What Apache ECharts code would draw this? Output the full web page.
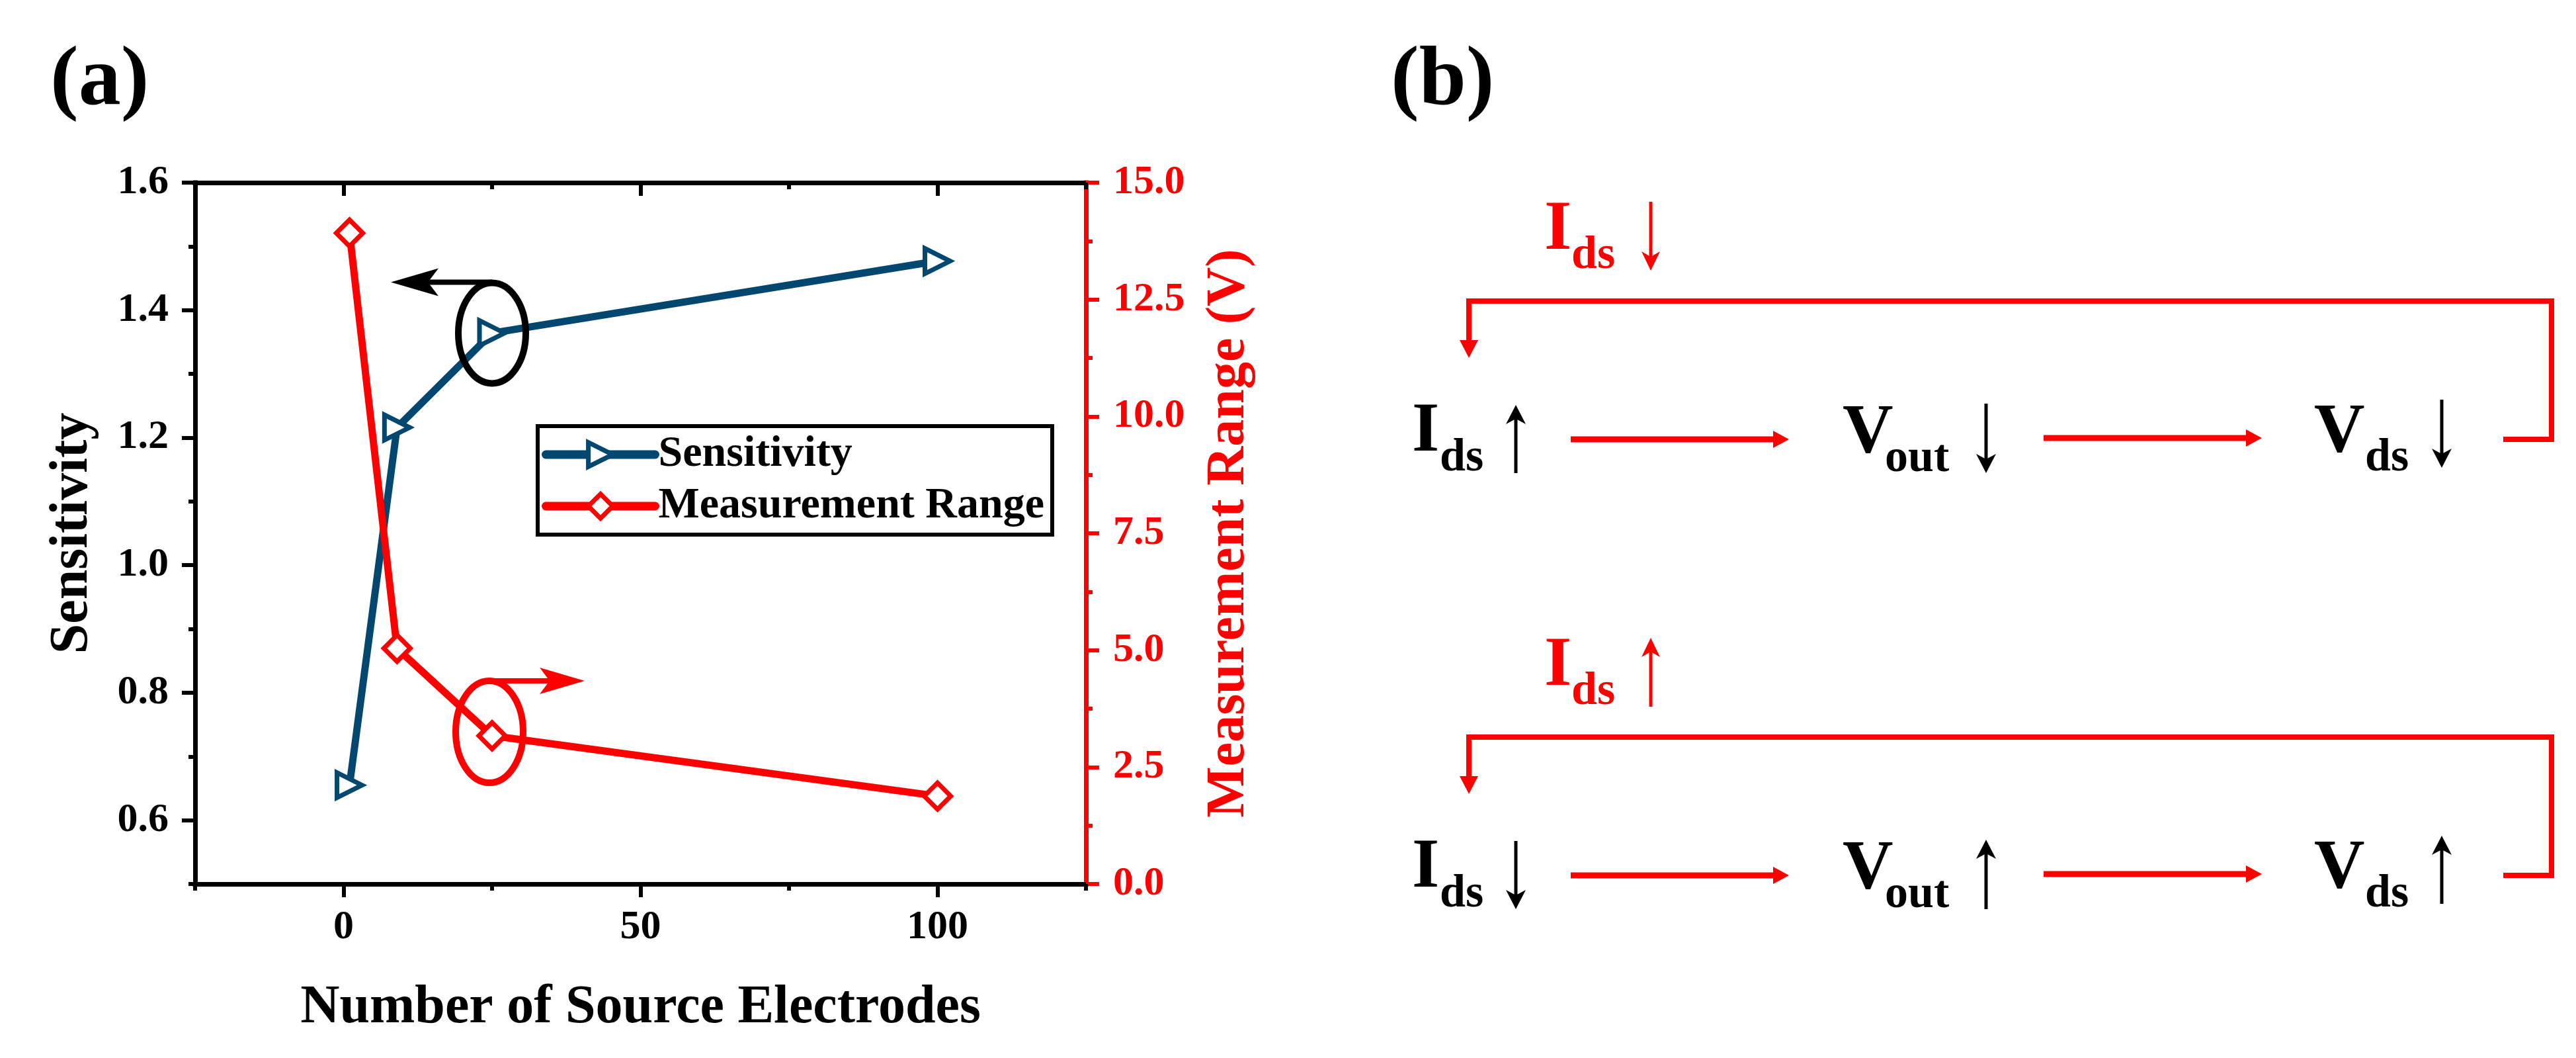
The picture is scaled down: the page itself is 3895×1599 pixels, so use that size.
<!DOCTYPE html>
<html><head><meta charset="utf-8">
<script src="https://cdn.jsdelivr.net/npm/echarts@6/dist/echarts.min.js"></script>
<style>html,body{margin:0;padding:0;background:#fff}#main{width:3895px;height:1599px}</style>
</head><body><div id="main"></div>
<script>
// ---------------- data ----------------
const electrodes = [1, 9, 25, 100];
const sensitivity = [0.655, 1.216, 1.364, 1.477];
const measurementRange = [13.92, 5.04, 3.17, 1.88];
const seriesNames = ['Sensitivity', 'Measurement Range'];
const xMajorTicks = [0, 50, 100];
const xMinorTicks = [-25, 25, 75, 125];
const yLeftMajorTicks = [0.6, 0.8, 1.0, 1.2, 1.4, 1.6];
const yLeftMinorTicks = [0.5, 0.7, 0.9, 1.1, 1.3, 1.5];
// panel (b): arrow directions per row: [feedback Ids, Ids, Vout, Vds]
const rowArrowDirs = [['down', 'up', 'down', 'down'], ['up', 'down', 'up', 'up']];

// ---------------- style ----------------
const FONT = '"Liberation Serif", "Times New Roman", serif';
const BLUE = '#02476F';
const RED = '#FF0000';
const AXW = 7;

const chart = echarts.init(document.getElementById('main'));

function tickAxis(extra) {
  return Object.assign({
    type: 'value', splitLine: { show: false }, axisLabel: { show: false },
    axisLine: { show: false, onZero: false }
  }, extra);
}
const blackLine = { show: true, onZero: false, lineStyle: { color: '#000', width: AXW, cap: 'square' } };
const labelStyle = { fontFamily: FONT, fontWeight: 'bold', fontSize: 62, color: '#000' };
const nameStyle = { fontFamily: FONT, fontWeight: 'bold', fontSize: 82, color: '#000' };

const option = {
  animation: false,
  backgroundColor: '#fff',
  textStyle: { fontFamily: FONT },
  grid: { left: 295, top: 276, width: 1347, height: 1060, containLabel: false },
  xAxis: [
    tickAxis({ position: 'bottom', min: -25, max: 125, axisLine: blackLine,
      axisTick: { customValues: xMajorTicks, length: 20, lineStyle: { color: '#000', width: 6 } },
      axisLabel: Object.assign({ show: true, customValues: xMajorTicks, margin: 35 }, labelStyle),
      name: 'Number of Source Electrodes', nameLocation: 'middle', nameGap: 147, nameTextStyle: nameStyle }),
    tickAxis({ position: 'bottom', min: -25, max: 125,
      axisTick: { customValues: xMinorTicks, length: 10, lineStyle: { color: '#000', width: 6 } } }),
    tickAxis({ position: 'top', min: -25, max: 125, axisLine: blackLine,
      axisTick: { inside: true, customValues: xMajorTicks, length: 20, lineStyle: { color: '#000', width: 6 } } }),
    tickAxis({ position: 'top', min: -25, max: 125,
      axisTick: { inside: true, customValues: xMinorTicks, length: 10, lineStyle: { color: '#000', width: 6 } } })
  ],
  yAxis: [
    tickAxis({ position: 'left', min: 0.5, max: 1.6, axisLine: blackLine,
      axisTick: { customValues: yLeftMajorTicks, length: 20, lineStyle: { color: '#000', width: 6 } },
      axisLabel: Object.assign({ show: true, customValues: yLeftMajorTicks, margin: 40,
        formatter: v => Number(v).toFixed(1) }, labelStyle),
      name: 'Sensitivity', nameLocation: 'middle', nameGap: 144, nameRotate: 90, nameTextStyle: nameStyle }),
    tickAxis({ position: 'left', min: 0.5, max: 1.6,
      axisTick: { customValues: yLeftMinorTicks, length: 10, lineStyle: { color: '#000', width: 6 } } }),
    tickAxis({ position: 'right', min: 0, max: 15, interval: 2.5,
      axisLine: { show: true, onZero: false, lineStyle: { color: RED, width: AXW, cap: 'square' } },
      axisTick: { show: true, length: 20, lineStyle: { color: RED, width: 6 } },
      minorTick: { show: true, splitNumber: 2, length: 10, lineStyle: { color: RED, width: 6 } },
      minorSplitLine: { show: false },
      axisLabel: Object.assign({}, labelStyle, { show: true, margin: 41, color: RED,
        formatter: v => Number(v).toFixed(1) }),
      name: 'Measurement Range (V)', nameLocation: 'middle', nameGap: 176, nameRotate: 90,
      nameTextStyle: Object.assign({}, nameStyle, { color: RED }) })
  ],
  legend: {
    data: seriesNames, orient: 'vertical', left: 813, top: 644,
    padding: [10, 12, 10, 6], itemGap: 12, itemWidth: 165, itemHeight: 46,
    borderColor: '#000', borderWidth: 6, backgroundColor: '#fff', selectedMode: false,
    textStyle: { fontFamily: FONT, fontWeight: 'bold', fontSize: 66, color: '#000' },
    lineStyle: { width: 13, cap: 'round' },
    itemStyle: { borderWidth: 7 }
  },
  series: [
    { name: seriesNames[0], type: 'line', xAxisIndex: 0, yAxisIndex: 0,
      data: electrodes.map((x, i) => [x, sensitivity[i]]),
      symbol: 'triangle', symbolRotate: -90, symbolSize: 38, showAllSymbol: true,
      lineStyle: { color: BLUE, width: 11 },
      itemStyle: { color: '#fff', borderColor: BLUE, borderWidth: 7 },
      emphasis: { disabled: true }, z: 3 },
    { name: seriesNames[1], type: 'line', xAxisIndex: 0, yAxisIndex: 2,
      data: electrodes.map((x, i) => [x, measurementRange[i]]),
      symbol: 'diamond', symbolSize: 40, showAllSymbol: true,
      lineStyle: { color: RED, width: 11 },
      itemStyle: { color: '#fff', borderColor: RED, borderWidth: 7 },
      emphasis: { disabled: true }, z: 3 }
  ]
};
chart.setOption(option);

// ---------------- annotation & panel (b) graphics ----------------
const els = [];
function txt(x, baseline, str, size, color) {
  els.push({ type: 'text', z: 10, style: { text: str, x: x, y: baseline - 0.3375 * size,
    font: 'bold ' + size + 'px ' + FONT, fill: color, align: 'left', verticalAlign: 'middle' } });
}
function line(x1, y1, x2, y2, color, w) {
  els.push({ type: 'line', z: 10, shape: { x1, y1, x2, y2 }, style: { stroke: color, lineWidth: w } });
}
function poly(points, color) {
  els.push({ type: 'polygon', z: 10, shape: { points }, style: { fill: color } });
}
function ellipse(cx, cy, rx, ry, color, w) {
  els.push({ type: 'ellipse', z: 10, shape: { cx, cy, rx, ry }, style: { stroke: color, fill: null, lineWidth: w } });
}
function hBarbArrow(xStart, xTip, y, color, w, headL, headH) {
  const d = xTip > xStart ? 1 : -1;
  line(xStart, y, xTip - d * headL * 0.7, y, color, w);
  poly([[xTip, y], [xTip - d * headL, y - headH], [xTip - d * headL * 0.78, y], [xTip - d * headL, y + headH]], color);
}
function hArrow(xStart, xTip, y, color, w, headL, headH) {
  line(xStart, y, xTip - headL + 2, y, color, w);
  poly([[xTip, y], [xTip - headL, y - headH], [xTip - headL, y + headH]], color);
}
function vArrow(x, yTop, yBottom, dir, color, w, headW, headL) {
  const tip = dir === 'up' ? yTop : yBottom;
  const tail = dir === 'up' ? yBottom : yTop;
  const s = dir === 'up' ? 1 : -1;
  line(x, tail, x, tip + s * headL * 0.6, color, w);
  poly([[x, tip], [x + headW / 2, tip + s * headL], [x, tip + s * headL * 0.72], [x - headW / 2, tip + s * headL]], color);
}

// panel labels
txt(76, 167, '(a)', 128, '#000');
txt(2103, 167, '(b)', 128, '#000');

// axis-indicator annotations anchored on the third data point of each series
const pS = chart.convertToPixel({ seriesIndex: 0 }, [electrodes[2], sensitivity[2]]);
const pM = chart.convertToPixel({ seriesIndex: 1 }, [electrodes[2], measurementRange[2]]);
ellipse(pS[0], pS[1], 51, 76, '#000', 10);
hBarbArrow(pS[0], pS[0] - 153, pS[1] - 77, '#000', 8, 72, 21);
ellipse(pM[0] - 4, pM[1] - 6, 51, 77, RED, 10);
hBarbArrow(pM[0] - 6, pM[0] + 140, pM[1] - 83, RED, 8, 68, 20);

// panel (b) flow diagrams
[0, 659].forEach((dy, r) => {
  const dirs = rowArrowDirs[r];
  els.push({ type: 'polyline', z: 10, shape: { points: [[3785, 664 + dy], [3858, 664 + dy], [3858, 455 + dy], [2221, 455 + dy], [2221, 520 + dy]] },
    style: { stroke: RED, lineWidth: 8, fill: null, lineJoin: 'miter' } });
  poly([[2221, 541 + dy], [2207, 514 + dy], [2235, 514 + dy]], RED);
  txt(2335, 384 + dy, 'I', 106, RED);
  txt(2376, 411 + dy, 'ds', 70, RED);
  vArrow(2496, 305 + dy, 409 + dy, dirs[0], RED, 5, 28, 29);
  txt(2135, 689 + dy, 'I', 106, '#000');
  txt(2177, 717 + dy, 'ds', 70, '#000');
  vArrow(2292, 612 + dy, 715 + dy, dirs[1], '#000', 5, 30, 29);
  hArrow(2375, 2705, 664 + dy, RED, 9, 24, 13);
  txt(2786, 691 + dy, 'V', 106, '#000');
  txt(2850, 718 + dy, 'out', 70, '#000');
  vArrow(3003, 610 + dy, 715 + dy, dirs[2], '#000', 5, 30, 29);
  hArrow(3090, 3420, 662 + dy, RED, 9, 24, 13);
  txt(3499, 690 + dy, 'V', 106, '#000');
  txt(3576, 717 + dy, 'ds', 70, '#000');
  vArrow(3692, 604 + dy, 707 + dy, dirs[3], '#000', 5, 30, 29);
});

chart.setOption({ graphic: { elements: els } });
</script></body></html>
